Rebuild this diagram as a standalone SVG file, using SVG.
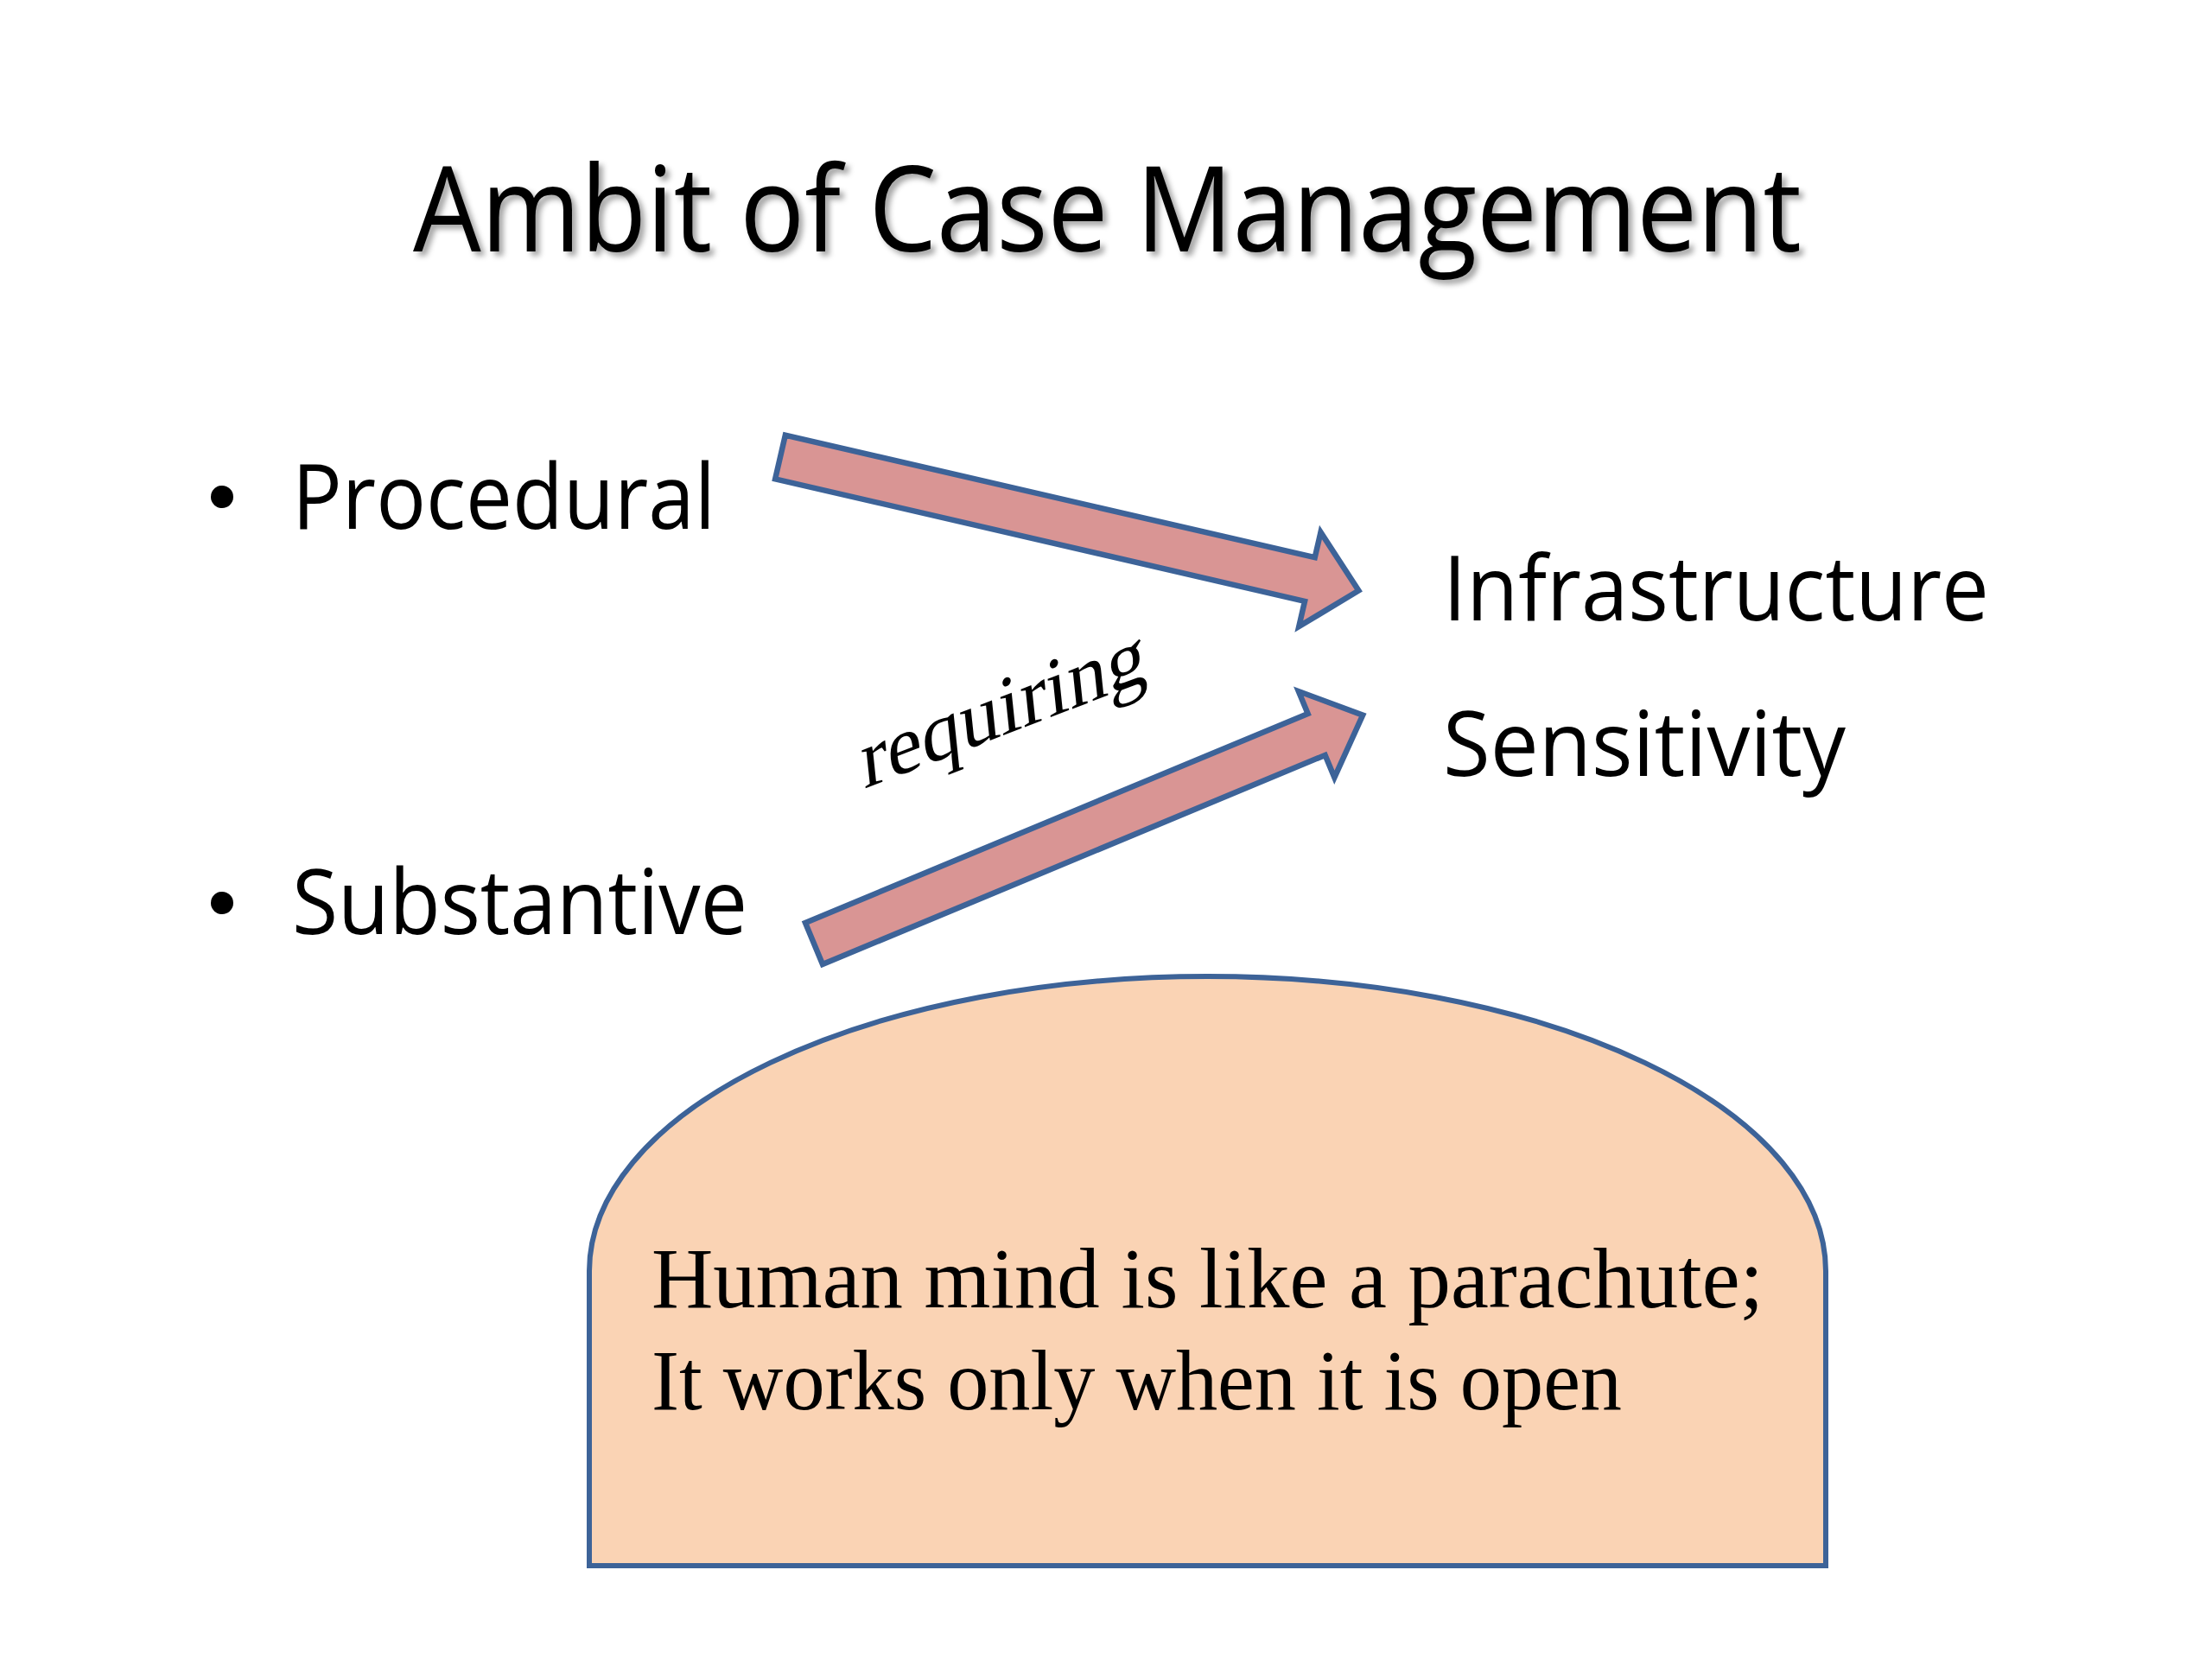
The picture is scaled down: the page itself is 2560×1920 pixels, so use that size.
<svg xmlns="http://www.w3.org/2000/svg" width="2560" height="1920" viewBox="0 0 2560 1920">
<defs>
<style>
.sans{font-family:"Open Sans","Liberation Sans",sans-serif;fill:#000}
.body{font-size:104px}
.serif{font-family:"Liberation Serif","DejaVu Serif",serif;fill:#000}
.arrow{fill:#D99594;stroke:#3D6398;stroke-width:6.5;stroke-linejoin:miter}
.callout{fill:#FAD3B4;stroke:#3D6398;stroke-width:6}
</style>
<filter id="shadow" x="-5%" y="-20%" width="110%" height="150%">
<feDropShadow dx="5" dy="5" stdDeviation="3" flood-color="#000" flood-opacity="0.35"/>
</filter>
</defs>
<rect width="2560" height="1920" fill="#fff"/>
<g id="title">
<text class="sans" x="478" y="291" font-size="137" textLength="1607" lengthAdjust="spacingAndGlyphs" filter="url(#shadow)">Ambit of Case Management</text>
</g>
<g id="procedural">
<circle cx="257" cy="575" r="13" fill="#000"/>
<text class="sans body" x="338" y="612" textLength="490" lengthAdjust="spacingAndGlyphs">Procedural</text>
</g>
<g id="substantive">
<circle cx="257" cy="1045" r="13" fill="#000"/>
<text class="sans body" x="338" y="1081" textLength="527" lengthAdjust="spacingAndGlyphs">Substantive</text>
</g>
<g id="infrastructure">
<text class="sans body" x="1670" y="718" textLength="632" lengthAdjust="spacingAndGlyphs">Infrastructure</text>
</g>
<g id="sensitivity">
<text class="sans body" x="1670" y="898" textLength="466" lengthAdjust="spacingAndGlyphs">Sensitivity</text>
</g>
<g id="connectors">
<polygon class="arrow" transform="translate(903,529) rotate(13)" points="0,-26 629,-26 629,-56 687,0 629,56 629,26 0,26"/>
<polygon class="arrow" transform="translate(942,1092) rotate(-22.6)" points="0,-26 630,-26 630,-54 688,0 630,54 630,26 0,26"/>
<text class="serif" font-size="96" transform="translate(1000,913) rotate(-6) skewY(-15)" textLength="340" lengthAdjust="spacingAndGlyphs">requiring</text>
</g>
<g id="quote">
<path class="callout" d="M 682,1812 L 682,1471 A 715.5,341 0 0 1 2113,1471 L 2113,1812 Z"/>
<text class="serif" font-size="100" x="754" y="1513" textLength="1287" lengthAdjust="spacingAndGlyphs">Human mind is like a parachute;</text>
<text class="serif" font-size="100" x="754" y="1631" textLength="1123" lengthAdjust="spacingAndGlyphs">It works only when it is open</text>
</g>
</svg>
